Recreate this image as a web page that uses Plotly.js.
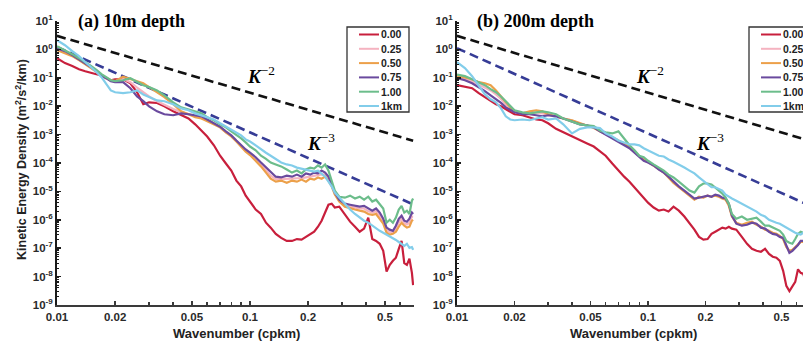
<!DOCTYPE html>
<html>
<head>
<meta charset="utf-8">
<script src="https://cdn.plot.ly/plotly-3.0.1.min.js"></script>
<style>
  html, body { margin: 0; padding: 0; background: #ffffff; }
  #chart { width: 803px; height: 343px; }
</style>
</head>
<body>
<div id="chart"></div>
<script>
// Wavenumber grid (cpkm) shared by every spectrum
const wavenumber = [0.010,0.011,0.012,0.013,0.014,0.015,0.016,0.017,0.018,0.019,0.020,
  0.022,0.024,0.026,0.028,0.030,
  0.033,0.036,0.040,0.044,0.048,0.052,0.056,0.060,
  0.065,0.070,0.075,0.080,0.085,0.090,0.095,0.100,
  0.107,0.114,0.121,0.128,0.136,0.145,0.155,0.165,0.175,0.185,0.195,
  0.205,0.215,0.225,0.235,0.245,0.255,0.265,0.275,
  0.29,0.31,0.33,0.35,0.37,0.39,0.41,0.43,0.45,0.47,0.49,
  0.51,0.53,0.55,0.57,0.59,0.61,0.63,0.65,0.67,0.69,0.70];

// Series labels (resolution) and colours
const seriesLabels = ['0.00', '0.25', '0.50', '0.75', '1.00', '1km'];
const seriesColors = ['#c81f3c', '#f5b3c0', '#eca04a', '#6a4a9e', '#6cbd8b', '#82cdea'];

// (a) 10 m depth: kinetic energy density (m^2/s^2/km)
const ke10_000 = [0.49,0.33,0.26,0.20,0.17,0.146,0.134,0.12,0.097,0.082,0.089,
  0.089,0.064,0.031,0.0117,0.0137,
  0.013,0.0099,0.0066,0.0048,0.0037,0.0023,0.0014,8.6e-4,
  4.2e-4,1.8e-4,9.6e-5,5.4e-5,2.4e-5,1.5e-5,7.1e-6,4.4e-6,
  2.3e-6,1.6e-6,7.9e-7,5.3e-7,3.2e-7,2.3e-7,1.8e-7,1.8e-7,2.1e-7,2.0e-7,2.5e-7,
  3.2e-7,3.8e-7,5.7e-7,9.3e-7,1.8e-6,3.4e-6,3.7e-6,2.7e-6,
  2.9e-6,1.5e-6,8.6e-7,5.7e-7,3.8e-7,4.9e-7,1.19e-6,2.1e-7,1.8e-7,1.43e-7,8.1e-8,
  1.5e-8,2.6e-8,3.6e-8,4.6e-8,9.5e-8,1.8e-7,3.0e-8,2.6e-8,4.3e-8,1.35e-8,5e-9];
const ke10_025 = [1.0,0.80,0.60,0.44,0.32,0.23,0.165,0.12,0.095,0.080,0.074,
  0.090,0.070,0.045,0.030,0.022,
  0.015,0.011,0.0080,0.0062,0.0052,0.0044,0.0040,0.0031,
  0.0024,0.0018,0.0012,9.0e-4,6.0e-4,4.0e-4,2.7e-4,2.1e-4,
  1.4e-4,9.0e-5,5.6e-5,3.6e-5,2.7e-5,2.7e-5,2.7e-5,2.8e-5,2.9e-5,2.9e-5,3.1e-5,
  3.3e-5,3.5e-5,3.6e-5,4.0e-5,3.9e-5,2.8e-5,1.6e-5,8.4e-6,
  4.8e-6,3.3e-6,2.9e-6,2.7e-6,2.5e-6,2.5e-6,2.0e-6,1.8e-6,2.0e-6,1.4e-6,9.0e-7,
  4.3e-7,3.7e-7,3.6e-7,4.9e-7,8.0e-7,1.1e-6,7.6e-7,6.8e-7,7.9e-7,1.3e-6,1.3e-6];
const ke10_050 = [0.94,0.74,0.58,0.42,0.30,0.22,0.16,0.12,0.097,0.082,0.076,
  0.11,0.089,0.076,0.064,0.047,
  0.031,0.021,0.0118,0.0066,0.0052,0.0041,0.0037,0.0029,
  0.0023,0.0018,0.0012,8.6e-4,5.7e-4,3.8e-4,2.5e-4,1.9e-4,
  1.2e-4,7.6e-5,4.6e-5,2.8e-5,2.2e-5,2.4e-5,2.0e-5,2.4e-5,2.2e-5,2.6e-5,2.2e-5,
  2.8e-5,2.6e-5,3.1e-5,2.8e-5,3.3e-5,2.4e-5,1.5e-5,7.7e-6,
  4.4e-6,2.9e-6,2.5e-6,2.3e-6,2.1e-6,1.95e-6,1.6e-6,1.5e-6,1.6e-6,1.09e-6,7.3e-7,
  3.5e-7,3.0e-7,3.2e-7,3.8e-7,5.7e-7,7.9e-7,6.2e-7,5.3e-7,5.7e-7,9.3e-7,1.0e-6];
const ke10_075 = [1.1,0.87,0.63,0.45,0.33,0.24,0.17,0.12,0.097,0.076,0.070,
  0.070,0.043,0.022,0.015,0.0099,
  0.0066,0.0052,0.0048,0.0056,0.0052,0.0048,0.0044,0.0034,
  0.0025,0.0019,0.0013,9.4e-4,6.2e-4,4.2e-4,3.0e-4,2.3e-4,
  1.6e-4,1.04e-4,6.9e-5,4.6e-5,3.3e-5,3.1e-5,3.6e-5,3.3e-5,3.9e-5,3.3e-5,4.3e-5,
  3.9e-5,4.6e-5,4.3e-5,5.4e-5,4.6e-5,3.3e-5,1.75e-5,9.1e-6,
  5.1e-6,3.7e-6,3.4e-6,3.1e-6,2.9e-6,3.1e-6,2.5e-6,2.1e-6,2.5e-6,1.8e-6,1.09e-6,
  5.3e-7,4.5e-7,4.1e-7,6.2e-7,1.09e-6,1.4e-6,9.3e-7,8.6e-7,1.09e-6,1.8e-6,1.6e-6];
const ke10_100 = [1.3,0.94,0.68,0.49,0.36,0.26,0.19,0.134,0.105,0.082,0.076,
  0.082,0.097,0.070,0.055,0.047,
  0.036,0.024,0.0137,0.0091,0.0078,0.0066,0.0056,0.0041,
  0.0032,0.0023,0.0018,0.0013,0.0010,7.3e-4,5.3e-4,3.8e-4,
  2.8e-4,1.8e-4,1.4e-4,1.04e-4,8.9e-5,7.6e-5,5.9e-5,4.6e-5,5.4e-5,4.3e-5,5.9e-5,
  6.9e-5,6.4e-5,8.2e-5,6.9e-5,8.9e-5,5.4e-5,2.4e-5,1.07e-5,
  6.5e-6,6.0e-6,7.1e-6,5.6e-6,6.5e-6,5.1e-6,6.5e-6,4.4e-6,5.1e-6,3.7e-6,2.5e-6,
  7.9e-7,1.0e-6,7.9e-7,1.19e-6,2.3e-6,3.1e-6,1.8e-6,2.1e-6,1.6e-6,4.7e-6,5.6e-6];
const ke10_1km = [2.1,1.4,0.87,0.58,0.36,0.24,0.16,0.105,0.059,0.036,0.031,
  0.029,0.031,0.036,0.026,0.021,
  0.016,0.0149,0.0118,0.0084,0.0072,0.0056,0.0048,0.0041,
  0.0034,0.0025,0.0019,0.0015,0.0012,9.4e-4,6.8e-4,5.7e-4,
  4.2e-4,3.0e-4,2.3e-4,1.8e-4,1.33e-4,1.04e-4,8.9e-5,8.2e-5,6.9e-5,6.4e-5,5.9e-5,
  5.4e-5,5.0e-5,5.4e-5,4.3e-5,3.3e-5,2.2e-5,1.5e-5,9.1e-6,
  6.0e-6,3.7e-6,2.3e-6,1.6e-6,1.19e-6,9.3e-7,7.9e-7,6.2e-7,4.9e-7,4.1e-7,3.5e-7,
  3.0e-7,2.7e-7,2.3e-7,1.95e-7,1.65e-7,1.43e-7,1.2e-7,1.43e-7,1.03e-7,1.1e-7,8.8e-8];

// (b) 200 m depth: kinetic energy density (m^2/s^2/km)
const ke200_000 = [0.055,0.047,0.043,0.029,0.021,0.016,0.0117,0.0099,0.0078,0.0061,0.0052,
  0.0048,0.0041,0.0034,0.0032,0.0025,
  0.0016,0.0012,8.6e-4,6.2e-4,4.9e-4,3.8e-4,2.5e-4,1.8e-4,
  9.6e-5,5.4e-5,3.3e-5,2.2e-5,1.4e-5,9.1e-6,6.0e-6,4.0e-6,
  2.7e-6,2.1e-6,2.3e-6,1.95e-6,2.9e-6,2.1e-6,1.3e-6,7.9e-7,4.5e-7,2.5e-7,2.0e-7,
  2.1e-7,3.2e-7,3.8e-7,4.5e-7,5.3e-7,4.9e-7,5.7e-7,4.9e-7,
  4.5e-7,2.5e-7,1.43e-7,9.5e-8,8.1e-8,7.5e-8,9.5e-8,6.3e-8,5.0e-8,4.6e-8,3.6e-8,
  1.6e-8,4.7e-9,3.1e-9,4.3e-9,6.5e-9,1.8e-8,1.35e-8,1.25e-8,6.5e-9,5.5e-9,5e-9];
const ke200_025 = [0.11,0.093,0.075,0.058,0.045,0.036,0.026,0.018,0.0115,0.0080,0.0064,
  0.0054,0.0058,0.0060,0.0056,0.0050,
  0.0044,0.0037,0.0031,0.0024,0.0020,0.0018,0.0013,0.00105,
  7.7e-4,5.9e-4,4.7e-4,3.4e-4,2.4e-4,1.65e-4,1.25e-4,1.07e-4,
  8.2e-5,6.1e-5,4.6e-5,3.2e-5,2.1e-5,1.45e-5,1.03e-5,7.4e-6,5.3e-6,6.2e-6,6.2e-6,
  7.1e-6,6.5e-6,7.4e-6,6.8e-6,5.8e-6,5.3e-6,3.4e-6,1.35e-6,
  7.6e-7,6.4e-7,7.3e-7,8.2e-7,7.0e-7,5.5e-7,4.7e-7,3.9e-7,3.3e-7,3.1e-7,2.6e-7,
  2.2e-7,1.15e-7,7.5e-8,8.4e-8,1.06e-7,1.36e-7,1.7e-7,1.7e-7,1.5e-7,1.35e-7,1.25e-7];
const ke200_050 = [0.12,0.105,0.089,0.070,0.064,0.055,0.036,0.022,0.0137,0.0091,0.0066,
  0.0056,0.0066,0.0072,0.0066,0.0052,
  0.0044,0.0037,0.0032,0.0025,0.0020,0.0017,0.0013,0.0011,
  8.0e-4,6.2e-4,4.9e-4,3.5e-4,2.5e-4,1.7e-4,1.33e-4,1.1e-4,
  8.2e-5,6.4e-5,4.6e-5,3.1e-5,2.0e-5,1.4e-5,9.9e-6,7.1e-6,5.1e-6,6.5e-6,6.0e-6,
  7.1e-6,6.5e-6,7.1e-6,6.5e-6,5.6e-6,5.1e-6,3.1e-6,1.3e-6,
  7.9e-7,6.7e-7,7.9e-7,8.6e-7,6.7e-7,5.7e-7,4.5e-7,4.1e-7,3.5e-7,3.2e-7,2.7e-7,
  2.1e-7,1.1e-7,8.1e-8,8.8e-8,1.1e-7,1.43e-7,1.65e-7,1.65e-7,1.43e-7,1.3e-7,1.2e-7];
const ke200_075 = [0.097,0.082,0.064,0.047,0.034,0.024,0.0175,0.013,0.0091,0.0072,0.0061,
  0.0052,0.0052,0.0048,0.0044,0.0048,
  0.0044,0.0037,0.0029,0.0023,0.0021,0.0018,0.0013,0.0010,
  7.3e-4,5.7e-4,4.5e-4,3.3e-4,2.3e-4,1.6e-4,1.2e-4,1.04e-4,
  8.2e-5,5.9e-5,4.6e-5,3.3e-5,2.2e-5,1.5e-5,1.07e-5,7.7e-6,5.6e-6,6.0e-6,6.5e-6,
  7.1e-6,6.5e-6,7.7e-6,7.1e-6,6.0e-6,5.6e-6,3.7e-6,1.4e-6,
  7.3e-7,6.2e-7,6.7e-7,7.9e-7,7.3e-7,5.3e-7,4.9e-7,3.8e-7,3.2e-7,3.0e-7,2.5e-7,
  2.3e-7,1.2e-7,6.9e-8,8.1e-8,1.03e-7,1.3e-7,1.8e-7,1.8e-7,1.55e-7,1.4e-7,1.3e-7];
const ke200_100 = [0.13,0.114,0.089,0.070,0.055,0.040,0.031,0.022,0.0149,0.0099,0.0072,
  0.0061,0.0056,0.0061,0.0066,0.0061,
  0.0052,0.0037,0.0029,0.0023,0.0021,0.0020,0.0014,0.0012,
  0.0011,0.0013,7.3e-4,4.2e-4,2.8e-4,1.8e-4,1.6e-4,1.2e-4,
  8.9e-5,6.9e-5,5.4e-5,3.9e-5,3.1e-5,2.2e-5,1.5e-5,1.07e-5,9.1e-6,1.5e-5,1.9e-5,
  1.9e-5,1.75e-5,1.4e-5,1.07e-5,8.4e-6,6.0e-6,3.7e-6,1.6e-6,
  1.09e-6,1.3e-6,1.0e-6,1.09e-6,1.19e-6,8.6e-7,6.2e-7,6.2e-7,5.3e-7,4.5e-7,4.1e-7,
  3.0e-7,1.8e-7,1.55e-7,1.43e-7,2.1e-7,3.2e-7,3.8e-7,3.5e-7,3.0e-7,2.8e-7,2.7e-7];
const ke200_1km = [0.36,0.22,0.114,0.050,0.026,0.0175,0.0137,0.0084,0.0044,0.0034,0.0032,
  0.0034,0.0032,0.0037,0.0041,0.0034,
  0.0037,0.0023,0.0011,0.0016,0.0018,0.0018,0.0017,0.0011,
  8.6e-4,6.2e-4,5.3e-4,4.5e-4,4.5e-4,4.2e-4,3.3e-4,2.8e-4,
  2.3e-4,1.8e-4,1.7e-4,1.33e-4,1.1e-4,8.9e-5,6.9e-5,5.4e-5,4.3e-5,3.1e-5,2.4e-5,
  1.9e-5,1.4e-5,1.4e-5,1.26e-5,1.07e-5,7.7e-6,6.5e-6,5.6e-6,
  4.7e-6,3.7e-6,2.9e-6,2.5e-6,1.95e-6,1.5e-6,1.3e-6,1.0e-6,8.6e-7,7.9e-7,7.3e-7,
  6.2e-7,5.3e-7,4.5e-7,3.8e-7,3.5e-7,3.2e-7,3.0e-7,3.5e-7,3.0e-7,2.8e-7,2.5e-7];

// Reference power-law slopes (end points)
const slopeK = [0.01, 0.70];
const slopeKm2 = [3.0, 6.1e-4];        // K^-2
const slopeKm3a = [1.2, 3.5e-6];       // K^-3, panel (a)
const slopeKm3b = [1.1, 3.2e-6];       // K^-3, panel (b)

// Axis ticks
const xTickVals = [0.01, 0.02, 0.05, 0.1, 0.2, 0.5];
const xTickText = ['0.01', '0.02', '0.05', '0.1', '0.2', '0.5'];
const xMinorVals = [0.03, 0.04, 0.06, 0.07, 0.08, 0.09, 0.3, 0.4, 0.6, 0.7];
const yExponents = [-9, -8, -7, -6, -5, -4, -3, -2, -1, 0, 1];

const W = 803, H = 343;
const px = x => x / W;
const py = y => 1 - y / H;

const panelA = [ke10_000, ke10_025, ke10_050, ke10_075, ke10_100, ke10_1km];
const panelB = [ke200_000, ke200_025, ke200_050, ke200_075, ke200_100, ke200_1km];

const traces = [];
function addPanel(series, xa, ya, k3) {
  traces.push({ x: slopeK, y: slopeKm2, xaxis: xa, yaxis: ya, mode: 'lines',
    line: { color: '#111111', width: 2.6, dash: '9px,5px' }, showlegend: false, hoverinfo: 'skip' });
  traces.push({ x: slopeK, y: k3, xaxis: xa, yaxis: ya, mode: 'lines',
    line: { color: '#363c96', width: 2.6, dash: '9px,5px' }, showlegend: false, hoverinfo: 'skip' });
  series.forEach((vals, i) => {
    traces.push({ x: wavenumber, y: vals, xaxis: xa, yaxis: ya, mode: 'lines',
      name: seriesLabels[i], line: { color: seriesColors[i], width: 2.2 }, showlegend: false });
  });
}
addPanel(panelA, 'x', 'y', slopeKm3a);
addPanel(panelB, 'x2', 'y2', slopeKm3b);

const tickFont = { family: 'Liberation Sans, Arial, sans-serif', size: 11.5, color: '#2a2a2a', weight: 'bold' };

function xAxis(domain, range, anchor) {
  return {
    type: 'log', domain: domain, range: range, anchor: anchor,
    showline: true, linecolor: '#3a3a3a', linewidth: 2, mirror: false,
    ticks: 'inside', ticklen: 4, tickwidth: 1.5, tickcolor: '#3a3a3a',
    tickmode: 'array', tickvals: xTickVals, ticktext: xTickText, tickfont: tickFont,
    minor: { tickmode: 'array', tickvals: xMinorVals, ticks: 'inside', ticklen: 3, tickwidth: 1.5, tickcolor: '#3a3a3a' },
    showgrid: false, zeroline: false, fixedrange: true
  };
}
function yAxis(anchor) {
  return {
    type: 'log', domain: [py(305), py(21)], range: [-9, 1], anchor: anchor,
    showline: true, linecolor: '#1a1a1a', linewidth: 2, mirror: false,
    ticks: 'inside', ticklen: 4, tickwidth: 1.5, tickcolor: '#1a1a1a',
    tickmode: 'array',
    tickvals: yExponents.map(e => Math.pow(10, e)),
    ticktext: yExponents.map(e => '10<sup>' + e + '</sup>'),
    tickfont: tickFont,
    minor: { dtick: 'D1', ticks: 'inside', ticklen: 2, tickwidth: 1, tickcolor: '#1a1a1a' },
    showgrid: false, zeroline: false, fixedrange: true
  };
}

// Legends drawn as boxes, line samples and labels
const shapes = [];
const annotations = [];
function addLegend(bx) {
  shapes.push({ type: 'rect', xref: 'paper', yref: 'paper',
    x0: px(bx), x1: px(bx + 62), y0: py(112), y1: py(27),
    line: { color: '#333333', width: 1.3 }, fillcolor: 'rgba(255,255,255,0)' });
  seriesLabels.forEach((lab, i) => {
    const yy = 34.5 + 14.3 * i;
    shapes.push({ type: 'line', xref: 'paper', yref: 'paper',
      x0: px(bx + 12), x1: px(bx + 32), y0: py(yy), y1: py(yy),
      line: { color: seriesColors[i], width: 2 } });
    annotations.push({ xref: 'paper', yref: 'paper', x: px(bx + 32), y: py(yy),
      xanchor: 'left', yanchor: 'middle', showarrow: false, text: lab,
      font: { family: 'Liberation Sans, Arial, sans-serif', size: 10.5, color: '#222222', weight: 'bold' } });
  });
}
addLegend(347);
addLegend(749);

const serif = 'Liberation Serif, Times New Roman, serif';
const sans = 'Liberation Sans, Arial, sans-serif';
function label(x, y, text, font, extra) {
  annotations.push(Object.assign({ xref: 'paper', yref: 'paper', x: px(x), y: py(y),
    showarrow: false, text: text, font: font }, extra || {}));
}
label(76, 22, '<b>(a) 10m depth</b>', { family: serif, size: 18, color: '#000' }, { xanchor: 'left', yanchor: 'middle' });
label(475, 22, '<b>(b) 200m depth</b>', { family: serif, size: 18, color: '#000' }, { xanchor: 'left', yanchor: 'middle' });
label(261, 75, '<b><i>K</i></b><sup>−2</sup>', { family: serif, size: 19, color: '#000' }, { xanchor: 'center', yanchor: 'middle' });
label(321, 142, '<b><i>K</i></b><sup>−3</sup>', { family: serif, size: 19, color: '#000' }, { xanchor: 'center', yanchor: 'middle' });
label(650, 75, '<b><i>K</i></b><sup>−2</sup>', { family: serif, size: 19, color: '#000' }, { xanchor: 'center', yanchor: 'middle' });
label(710, 142, '<b><i>K</i></b><sup>−3</sup>', { family: serif, size: 19, color: '#000' }, { xanchor: 'center', yanchor: 'middle' });
label(21, 160, 'Kinetic Energy Density (m<sup>2</sup>/s<sup>2</sup>/km)',
  { family: sans, size: 12.5, color: '#222', weight: 'bold' }, { xanchor: 'center', yanchor: 'middle', textangle: -90 });
label(236, 333, 'Wavenumber (cpkm)', { family: sans, size: 13, color: '#222', weight: 'bold' }, { xanchor: 'center', yanchor: 'middle' });
label(633, 333, 'Wavenumber (cpkm)', { family: sans, size: 13, color: '#222', weight: 'bold' }, { xanchor: 'center', yanchor: 'middle' });

const layout = {
  width: W, height: H,
  margin: { l: 0, r: 0, t: 0, b: 0, autoexpand: false },
  paper_bgcolor: '#ffffff', plot_bgcolor: '#ffffff',
  showlegend: false,
  xaxis: xAxis([px(57), px(414)], [-2, -0.1503], 'y'),
  yaxis: yAxis('x'),
  xaxis2: xAxis([px(457), 1], [-2, -0.1885], 'y2'),
  yaxis2: yAxis('x2'),
  shapes: shapes,
  annotations: annotations
};

Plotly.newPlot('chart', traces, layout, { staticPlot: true, displayModeBar: false });
</script>
</body>
</html>
